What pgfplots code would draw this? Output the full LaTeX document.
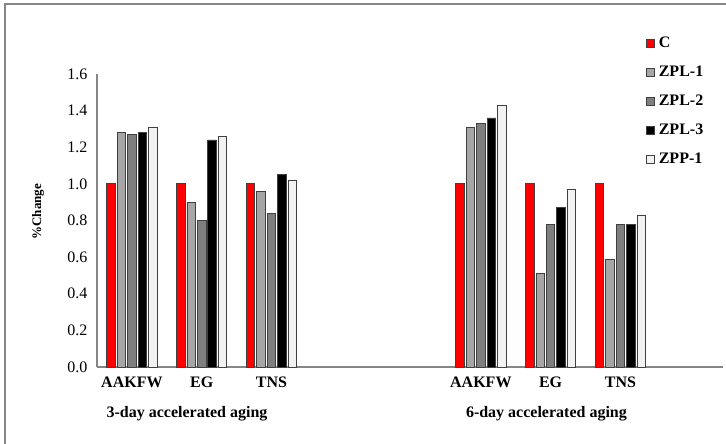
\documentclass[border=0pt]{standalone}
\usepackage{fontspec}
\setmainfont{Liberation Serif}
\usepackage{pgfplots}
\pgfplotsset{compat=1.18}
\definecolor{cC}{HTML}{FF0000}
\definecolor{cA}{HTML}{A6A6A6}
\definecolor{cB}{HTML}{7F7F7F}
\definecolor{cD}{HTML}{000000}
\definecolor{cE}{HTML}{F2F2F2}
\definecolor{edge}{HTML}{404040}
\definecolor{axgray}{HTML}{868686}
\begin{document}
\begin{tikzpicture}
\useasboundingbox (0,0) rectangle (726bp,444bp);
\begin{scope}
\clip (0,0) rectangle (726bp,444bp);
\draw[axgray, line width=1.3bp] (5bp,-10bp) -- (5bp,440bp) -- (740bp,440bp);
\end{scope}
\begin{axis}[
  at={(97bp,77bp)}, anchor=south west,
  scale only axis, width=626bp, height=293bp,
  ymin=0, ymax=1.6, xmin=-0.5, xmax=8.47,
  ytick={0,0.2,0.4,0.6,0.8,1.0,1.2,1.4,1.6},
  xtick={0,1,2,5,6,7},
  xticklabels={AAKFW,EG,TNS,AAKFW,EG,TNS},
  major tick length=0pt,
  axis x line=bottom, axis y line=left,
  axis line style={axgray, line width=1.2bp, -},
  clip=false,
  ybar, bar width=0.122,
  /pgf/number format/assume math mode=true,
  yticklabel style={font=\fontsize{16bp}{18bp}\selectfont, /pgf/number format/fixed, /pgf/number format/precision=1, /pgf/number format/fixed zerofill, xshift=-6bp},
  xticklabel style={font=\bfseries\fontsize{16bp}{18bp}\selectfont, yshift=-6bp},
  ylabel={\%Change},
  ylabel style={font=\bfseries\fontsize{13bp}{15bp}\selectfont, at={(axis description cs:-0.094,0.53)}, anchor=center},
  legend image code/.code={\draw[#1, draw=edge, line width=0.6bp] (0bp,-4bp) rectangle (8bp,4bp);},
  legend style={draw=none, fill=none, at={(0.877,1.13)}, anchor=north west, inner sep=0pt,
    font=\bfseries\fontsize{16bp}{18bp}\selectfont, row sep=15bp,
    nodes={inner sep=1bp},
    /tikz/every odd column/.append style={column sep=3bp}},
  legend cell align=left,
  every axis plot/.append style={draw=edge, line width=0.8bp},
]
\addplot[fill=cC, bar shift=-0.3] coordinates {(0,1.00) (1,1.00) (2,1.00) (5,1.00) (6,1.00) (7,1.00)};
\addplot[fill=cA, bar shift=-0.15] coordinates {(0,1.28) (1,0.90) (2,0.96) (5,1.31) (6,0.51) (7,0.59)};
\addplot[fill=cB, bar shift=0] coordinates {(0,1.27) (1,0.80) (2,0.84) (5,1.33) (6,0.78) (7,0.78)};
\addplot[fill=cD, bar shift=0.15] coordinates {(0,1.28) (1,1.24) (2,1.05) (5,1.36) (6,0.87) (7,0.78)};
\addplot[fill=cE, bar shift=0.3] coordinates {(0,1.31) (1,1.26) (2,1.02) (5,1.43) (6,0.97) (7,0.83)};
\legend{C,ZPL-1,ZPL-2,ZPL-3,ZPP-1}
\node[font=\bfseries\fontsize{16bp}{18bp}\selectfont, anchor=center] at (axis cs:0.79,0) [yshift=-47bp] {3-day accelerated aging};
\node[font=\bfseries\fontsize{16bp}{18bp}\selectfont, anchor=center] at (axis cs:5.94,0) [yshift=-47bp] {6-day accelerated aging};
\end{axis}
\end{tikzpicture}
\end{document}
